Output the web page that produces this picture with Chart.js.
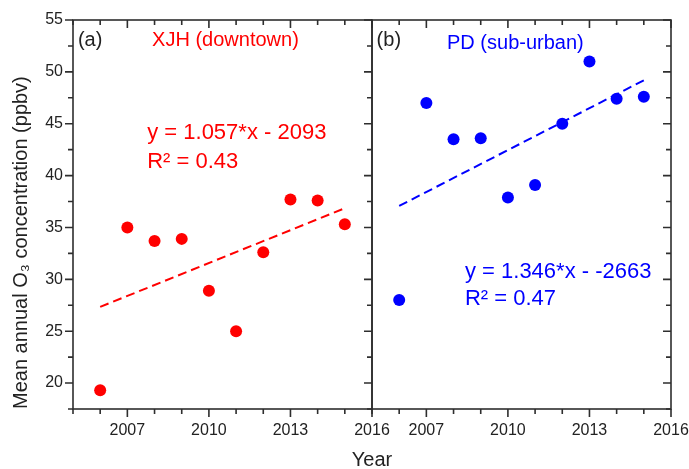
<!DOCTYPE html>
<html lang="en">
<head>
<meta charset="UTF-8">
<title>Mean annual O3 concentration</title>
<script src="https://cdn.jsdelivr.net/npm/chart.js"></script>
<style>
    body { margin: 0; background: #fff; }
    #wrap { position: relative; width: 689px; height: 469px; }
    #wrap canvas { position: absolute; left: 0; top: 0; }
</style>
</head>
<body>
<div id="wrap">
    <canvas id="xjhChart" width="689" height="469"></canvas>
    <canvas id="pdChart" width="689" height="469"></canvas>
</div>
<script>
// yearly means, ppbv
const years = [2006, 2007, 2008, 2009, 2010, 2011, 2012, 2013, 2014, 2015];
const xjhO3 = [19.3, 35.0, 33.7, 33.9, 28.9, 25.0, 32.6, 37.7, 37.6, 35.3];
const pdO3  = [28.0, 47.0, 43.5, 43.6, 37.9, 39.1, 45.0, 51.0, 47.4, 47.6];

// linear fits as printed on the panels
const xjhSlope = 1.057, xjhIntercept = -2093;
const pdSlope = 1.346, pdIntercept = -2663;

const yearTicks = [2007, 2010, 2013, 2016];
const o3Ticks = [20, 25, 30, 35, 40, 45, 50, 55];

const FONT = "'Liberation Sans', Arial, sans-serif";
const INK = '#222';

const isYearMajor = v => yearTicks.includes(v);
const isO3Major = v => o3Ticks.some(t => Math.abs(t - v) < 1e-6);

function points(ys) {
    return years.map((yr, i) => ({ x: yr, y: ys[i] }));
}
function fitLine(slope, intercept) {
    const a = years[0], b = years[years.length - 1];
    return [{ x: a, y: slope * a + intercept }, { x: b, y: slope * b + intercept }];
}

// box around the plot area plus major/minor tick marks
const framePlugin = {
    id: 'frame',
    afterDraw(chart, args, opts) {
        const { ctx, chartArea: a, scales: { x, y } } = chart;
        ctx.save();
        ctx.strokeStyle = '#2e2e2e';
        ctx.lineWidth = 1.6;
        ctx.strokeRect(a.left, a.top, a.right - a.left, a.bottom - a.top);
        ctx.beginPath();
        x.ticks.forEach(t => {
            const px = x.getPixelForValue(t.value);
            const len = isYearMajor(t.value) ? 8 : 5;
            ctx.moveTo(px, a.bottom); ctx.lineTo(px, a.bottom + len);
            ctx.moveTo(px, a.top); ctx.lineTo(px, a.top + len);
        });
        y.ticks.forEach(t => {
            const py = y.getPixelForValue(t.value);
            const len = isO3Major(t.value) ? 8 : 5;
            if (opts.outerLeft) { ctx.moveTo(a.left, py); ctx.lineTo(a.left - len, py); }
            ctx.moveTo(a.right, py); ctx.lineTo(a.right - len, py);
        });
        ctx.stroke();
        ctx.restore();
    }
};

// free text placed in data units
const notesPlugin = {
    id: 'notes',
    afterDraw(chart, args, opts) {
        const { ctx, scales: { x, y } } = chart;
        ctx.save();
        ctx.textBaseline = 'alphabetic';
        (opts.items || []).forEach(n => {
            ctx.font = n.size + 'px ' + FONT;
            ctx.fillStyle = n.color || INK;
            ctx.textAlign = n.align || 'left';
            ctx.fillText(n.text, x.getPixelForValue(n.x), y.getPixelForValue(n.y));
        });
        ctx.restore();
    }
};

function makePanel(id, color, values, slope, intercept, opts) {
    const ctx = document.getElementById(id).getContext('2d');
    return new Chart(ctx, {
        type: 'scatter',
        data: {
            datasets: [{
                data: points(values),
                pointRadius: 6,
                pointHoverRadius: 6,
                pointBorderWidth: 0,
                pointBackgroundColor: color,
                borderColor: color
            }, {
                data: fitLine(slope, intercept),
                showLine: true,
                borderColor: color,
                borderWidth: 2,
                borderDash: [9, 5],
                pointRadius: 0
            }]
        },
        options: {
            responsive: false,
            animation: false,
            events: [],
            layout: { padding: opts.padding },
            plugins: {
                legend: { display: false },
                tooltip: { enabled: false },
                frame: { outerLeft: opts.outerLeft },
                notes: { items: opts.notes }
            },
            scales: {
                x: {
                    type: 'linear',
                    min: 2005,
                    max: 2016,
                    grid: { display: false, drawTicks: false },
                    border: { display: false },
                    afterFit(scale) {
                        scale.height = 60;
                        // end labels may hang over the layout padding
                        scale.paddingLeft = 0;
                        scale.paddingRight = 0;
                    },
                    ticks: {
                        stepSize: 1,
                        autoSkip: false,
                        maxRotation: 0,
                        padding: 12,
                        color: INK,
                        font: { family: FONT, size: 16 },
                        callback: v => isYearMajor(v) ? String(v) : ''
                    }
                },
                y: {
                    min: 17.5,
                    max: 55,
                    grid: { display: false, drawTicks: false },
                    border: { display: false },
                    afterFit(scale) { scale.width = opts.yWidth; },
                    title: {
                        display: opts.outerLeft,
                        text: 'Mean annual O\u2083 concentration (ppbv)',
                        align: 'start',
                        color: INK,
                        font: { family: FONT, size: 20 },
                        padding: { top: 9, bottom: 0 }
                    },
                    ticks: {
                        display: opts.outerLeft,
                        stepSize: 2.5,
                        padding: 10,
                        color: INK,
                        font: { family: FONT, size: 16 },
                        callback: v => isO3Major(v) ? String(v) : ''
                    }
                }
            }
        },
        plugins: [framePlugin, notesPlugin]
    });
}

makePanel('xjhChart', '#ff0000', xjhO3, xjhSlope, xjhIntercept, {
    padding: { left: 0, right: 317, top: 20, bottom: 0 },
    yWidth: 73,
    outerLeft: true,
    notes: [
        { text: '(a)', x: 2005.18, y: 52.5, size: 20 },
        { text: 'XJH (downtown)', x: 2007.91, y: 52.45, size: 20, color: '#ff0000' },
        { text: 'y = 1.057*x - 2093', x: 2007.73, y: 43.53, size: 22, color: '#ff0000' },
        { text: 'R\u00b2 = 0.43', x: 2007.73, y: 40.77, size: 22, color: '#ff0000' },
        { text: 'Year', x: 2016, y: 12.05, size: 20, align: 'center' }
    ]
});

makePanel('pdChart', '#0000ff', pdO3, pdSlope, pdIntercept, {
    padding: { left: 0, right: 18, top: 20, bottom: 0 },
    yWidth: 372,
    outerLeft: false,
    notes: [
        { text: '(b)', x: 2005.17, y: 52.5, size: 20 },
        { text: 'PD (sub-urban)', x: 2007.76, y: 52.2, size: 20, color: '#0000ff' },
        { text: 'y = 1.346*x - -2663', x: 2008.42, y: 30.16, size: 22, color: '#0000ff' },
        { text: 'R\u00b2 = 0.47', x: 2008.42, y: 27.5, size: 22, color: '#0000ff' }
    ]
});
</script>
</body>
</html>
